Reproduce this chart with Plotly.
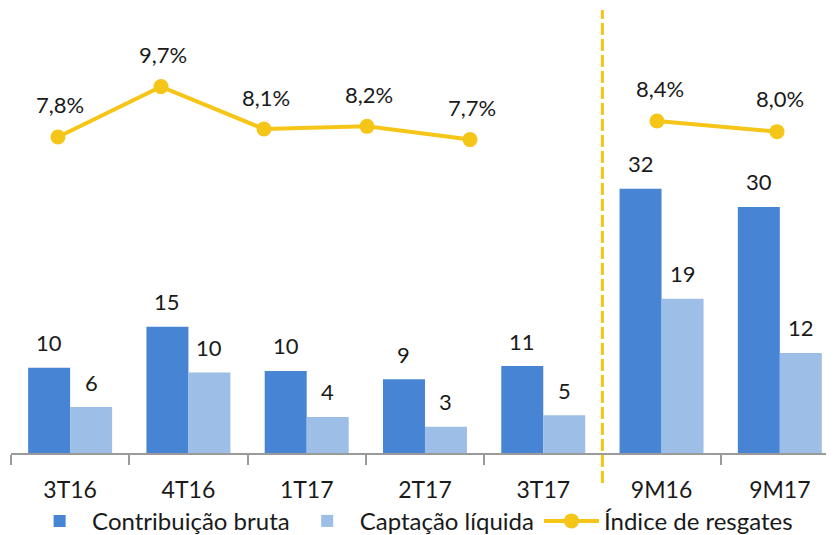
import plotly.graph_objects as go

categories = ["3T16", "4T16", "1T17", "2T17", "3T17", "9M16", "9M17"]
contribuicao_bruta = [10.4, 15.4, 10.0, 9.0, 10.6, 32.2, 30.0]
captacao_liquida = [5.6, 9.8, 4.4, 3.2, 4.6, 18.8, 12.2]
indice_resgates = [7.8, 9.7, 8.1, 8.2, 7.7, 8.4, 8.0]

DARK = "#4784D4"
LIGHT = "#9DBEE6"
YELLOW = "#F5C518"
FONT = "Lato"
TXT = "#1a1a1a"

quarters = categories[:5]
periods = categories[5:]

fig = go.Figure()
fig.add_trace(go.Bar(
    x=categories, y=contribuicao_bruta, name="Contribuição bruta",
    marker=dict(color=DARK, line=dict(width=0)),
))
fig.add_trace(go.Bar(
    x=categories, y=captacao_liquida, name="Captação líquida",
    marker=dict(color=LIGHT, line=dict(width=0)),
))
fig.add_trace(go.Scatter(
    x=quarters, y=indice_resgates[:5], name="Índice de resgates",
    xaxis="x2", yaxis="y2", mode="lines+markers",
    line=dict(color=YELLOW, width=4), marker=dict(color=YELLOW, size=15),
))
fig.add_trace(go.Scatter(
    x=periods, y=indice_resgates[5:], name="Índice de resgates",
    xaxis="x3", yaxis="y2", mode="lines+markers", showlegend=False,
    line=dict(color=YELLOW, width=4), marker=dict(color=YELLOW, size=15),
))

lab_font = dict(family=FONT, size=22, color=TXT)
# bar value labels, anchored at each bar's top
for cat, v in zip(categories, contribuicao_bruta):
    fig.add_annotation(x=cat, y=v, xref="x", yref="y", text=f"{v:.0f}",
                       showarrow=False, xshift=-21, yshift=25, font=lab_font)
for cat, v in zip(categories, captacao_liquida):
    fig.add_annotation(x=cat, y=v, xref="x", yref="y", text=f"{v:.0f}",
                       showarrow=False, xshift=21, yshift=25, font=lab_font)
# percentage labels above the line markers
for cat, v in zip(quarters, indice_resgates[:5]):
    fig.add_annotation(x=cat, y=v, xref="x2", yref="y2",
                       text=f"{v:.1f}%".replace(".", ","),
                       showarrow=False, xshift=2, yshift=32, font=lab_font)
for cat, v in zip(periods, indice_resgates[5:]):
    fig.add_annotation(x=cat, y=v, xref="x3", yref="y2",
                       text=f"{v:.1f}%".replace(".", ","),
                       showarrow=False, xshift=3, yshift=33, font=lab_font)

# vertical dashed separator between quarters and 9M periods
fig.add_shape(type="line", xref="x", yref="paper", x0=4.5, x1=4.5,
              y0=-0.068, y1=1.0, line=dict(color=YELLOW, width=3, dash="12px,4px"))

# page body has an 8px margin, so the figure is sized to fit the window
fig.update_layout(
    width=826, height=527,
    margin=dict(l=3, r=0, t=2, b=82, autoexpand=False),
    paper_bgcolor="white", plot_bgcolor="white",
    barmode="group", bargap=0.29, bargroupgap=0,
    showlegend=True,
    legend=dict(orientation="h", x=0.488, xanchor="center", y=-0.205, yanchor="bottom",
                font=dict(family=FONT, size=24, color=TXT), itemwidth=55,
                traceorder="normal", bgcolor="rgba(0,0,0,0)"),
    xaxis=dict(type="category", categoryorder="array", categoryarray=categories,
               range=[-0.5, 6.458], showgrid=False, showline=True, linecolor="#9a9a9a",
               linewidth=1.5, ticks="outside", tickson="boundaries", ticklen=10,
               tickcolor="#9a9a9a", tickwidth=1.5, ticklabelstandoff=16,
               tickfont=dict(family=FONT, size=23, color=TXT), zeroline=False,
               automargin=False),
    yaxis=dict(range=[0, 54.0], visible=False, showgrid=False, zeroline=False,
               automargin=False),
    xaxis2=dict(type="category", categoryorder="array", categoryarray=quarters,
                overlaying="x", range=[-0.456, 7.534], visible=False, anchor="y2"),
    xaxis3=dict(type="category", categoryorder="array", categoryarray=periods,
                overlaying="x", range=[-5.383, 1.475], visible=False, anchor="y2"),
    yaxis2=dict(range=[-4.125, 12.59], overlaying="y", visible=False,
                showgrid=False, zeroline=False),
)

fig.write_html("out.html")
